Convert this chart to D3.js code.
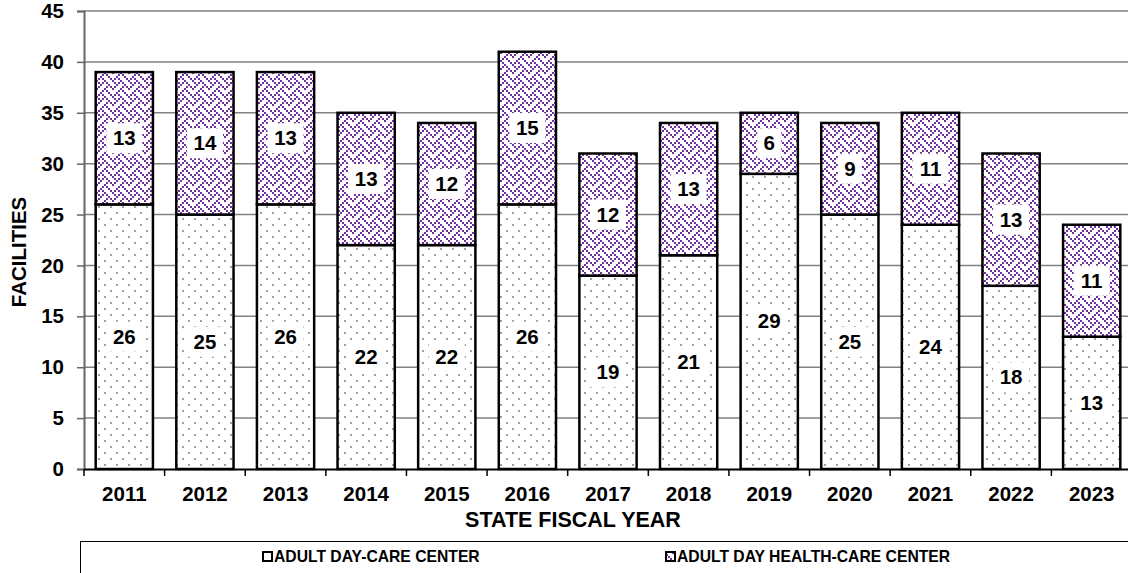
<!DOCTYPE html>
<html><head><meta charset="utf-8">
<script src="https://cdn.jsdelivr.net/npm/d3@7"></script>
<style>body{margin:0;background:#fff}svg{display:block}text{font-family:Arial,"Liberation Sans",sans-serif;font-weight:bold}</style>
</head><body>
<svg id="c" width="1128" height="573"></svg>
<script>
const years = ["2011","2012","2013","2014","2015","2016","2017","2018","2019","2020","2021","2022","2023"];
const dayCare = [26,25,26,22,22,26,19,21,29,25,24,18,13];
const dayHealth = [13,14,13,13,12,15,12,13,6,9,11,13,11];
const seriesNames = ["ADULT DAY-CARE CENTER","ADULT DAY HEALTH-CARE CENTER"];
const yTicks = [0,5,10,15,20,25,30,35,40,45];

const svg = d3.select("#c");
const defs = svg.append("defs");
// dotted pattern
const pd = defs.append("pattern").attr("id","dots").attr("patternUnits","userSpaceOnUse").attr("width",12).attr("height",12);
pd.append("rect").attr("width",12).attr("height",12).attr("fill","#fff");
pd.append("rect").attr("x",2).attr("y",2).attr("width",2).attr("height",2).attr("fill","#a0a0a0");
pd.append("rect").attr("x",8).attr("y",8).attr("width",2).attr("height",2).attr("fill","#a0a0a0");
// purple weave pattern (8x8 bitmap, 2px cells)
const weave = [0x88,0x54,0x22,0x45,0x88,0x14,0x22,0x51];
const pz = defs.append("pattern").attr("id","zig").attr("patternUnits","userSpaceOnUse").attr("width",16).attr("height",16);
pz.append("rect").attr("width",16).attr("height",16).attr("fill","#fff");
weave.forEach((row,r)=>{
  for(let c=0;c<8;c++){
    if(row & (0x80>>c)) pz.append("rect").attr("x",c*2).attr("y",r*2).attr("width",2).attr("height",2).attr("fill","#7030a0");
  }
});

const x = d3.scaleBand().domain(years).range([84,1132]).paddingInner(0.29).paddingOuter(0.145);
const y = d3.scaleLinear().domain([0,45]).range([469,11]);

// gridlines
svg.append("g").selectAll("line").data(yTicks.filter(d=>d>0)).join("line")
  .attr("x1",84).attr("x2",1128).attr("y1",d=>y(d)).attr("y2",d=>y(d))
  .attr("stroke","#808080").attr("stroke-width",1.5);

// y axis
const ya = svg.append("g").attr("transform","translate(84,0)")
  .call(d3.axisLeft(y).tickValues(yTicks).tickSize(7).tickPadding(13));
ya.select(".domain").attr("stroke","#666").attr("stroke-width",2);
ya.selectAll(".tick line").attr("stroke","#666").attr("stroke-width",1.5);
ya.selectAll("text").attr("font-size",20.5).attr("fill","#000").attr("font-family","Arial, Liberation Sans, sans-serif").attr("font-weight","bold");

// x axis
const xa = svg.append("g").attr("transform","translate(0,469)")
  .call(d3.axisBottom(x).tickSize(0).tickPadding(17));
xa.select(".domain").attr("stroke","#000").attr("stroke-width",2);
xa.selectAll("text").attr("font-size",20.5).attr("fill","#000").attr("font-family","Arial, Liberation Sans, sans-serif").attr("font-weight","bold");
// boundary ticks
const step = x.step();
svg.append("g").selectAll("line").data(d3.range(years.length+1)).join("line")
  .attr("x1",i=>84+i*step).attr("x2",i=>84+i*step).attr("y1",469).attr("y2",476)
  .attr("stroke","#000").attr("stroke-width",1.5);

// bars
const data = years.map((yr,i)=>({yr, a:dayCare[i], b:dayHealth[i]}));
const g = svg.append("g");
g.selectAll(".ba").data(data).join("rect")
  .attr("x",d=>x(d.yr)).attr("width",x.bandwidth())
  .attr("y",d=>y(d.a)).attr("height",d=>y(0)-y(d.a))
  .attr("fill","url(#dots)").attr("stroke","#000").attr("stroke-width",2.5);
g.selectAll(".bb").data(data).join("rect")
  .attr("x",d=>x(d.yr)).attr("width",x.bandwidth())
  .attr("y",d=>y(d.a+d.b)).attr("height",d=>y(d.a)-y(d.a+d.b))
  .attr("fill","url(#zig)").attr("stroke","#000").attr("stroke-width",2.5);

// labels
function label(cx, cy, v){
  const w = String(v).length>1 ? 36 : 24;
  svg.append("rect").attr("x",cx-w/2).attr("y",cy-15).attr("width",w).attr("height",30).attr("fill","#fff");
  svg.append("text").attr("x",cx).attr("y",cy+7).attr("text-anchor","middle").attr("font-size",20.5).text(v);
}
data.forEach(d=>{
  const cx = x(d.yr)+x.bandwidth()/2;
  label(cx, y(d.a/2), d.a);
  label(cx, y(d.a+d.b/2), d.b);
});

// axis titles
svg.append("text").attr("x",573).attr("y",527).attr("text-anchor","middle").attr("font-size",21.5).text("STATE FISCAL YEAR");
svg.append("text").attr("transform","translate(26,252) rotate(-90)").attr("text-anchor","middle").attr("font-size",20.5).text("FACILITIES");

// legend
svg.append("rect").attr("x",80.5).attr("y",541.5).attr("width",1060).attr("height",50).attr("fill","#fff").attr("stroke","#000").attr("stroke-width",1);
const legX = [263, 666];
seriesNames.forEach((n,i)=>{
  svg.append("rect").attr("x",legX[i]).attr("y",552).attr("width",9).attr("height",9)
    .attr("fill", i===0?"#fff":"url(#zig)").attr("stroke","#000").attr("stroke-width",2);
  svg.append("text").attr("x",legX[i]+11).attr("y",562).attr("font-size",15.7).text(n);
});
</script>
</body></html>
